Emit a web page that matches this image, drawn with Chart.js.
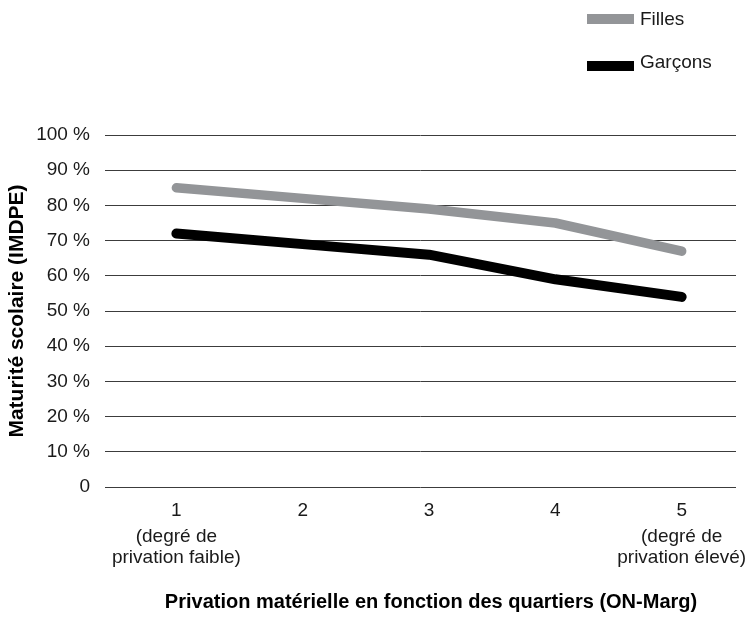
<!DOCTYPE html>
<html lang="fr">
<head>
<meta charset="utf-8">
<title>Maturité scolaire selon la privation matérielle</title>
<script src="https://cdn.jsdelivr.net/npm/chart.js@4/dist/chart.umd.min.js"></script>
<style>
  html, body { margin: 0; padding: 0; background: #ffffff; }
  #wrap { width: 752px; height: 617px; position: relative; }
</style>
</head>
<body>
<div id="wrap"><canvas id="chart" width="752" height="617"></canvas></div>
<script>
// Quintiles of material deprivation (ON-Marg)
const categories = [1, 2, 3, 4, 5];
// Extra wording printed under the first and last quintile
const categoryNotes = {
  1: ['(degré de', 'privation faible)'],
  5: ['(degré de', 'privation élevé)']
};
// Share of children ready for school (%), by sex
const fillesValues = [85, 82, 79, 75, 67];
const garconsValues = [72, 69, 66, 59, 54];
// Y axis tick values (%)
const yTickValues = [0, 10, 20, 30, 40, 50, 60, 70, 80, 90, 100];
const xAxisTitle = 'Privation matérielle en fonction des quartiers (ON-Marg)';

const FONT = '"Liberation Sans", Arial, Helvetica, sans-serif';
const TEXT_COLOR = '#1a1a1a';
const TEXT_SIZE = 19;

Chart.defaults.font.family = FONT;
Chart.defaults.font.size = TEXT_SIZE;
Chart.defaults.color = TEXT_COLOR;

const toPoints = values => categories.map((c, i) => ({ x: c, y: values[i] }));

// Vertical legend in the top-right corner
const sideLegend = {
  id: 'sideLegend',
  afterDraw(chart) {
    const ctx = chart.ctx;
    ctx.save();
    ctx.font = TEXT_SIZE + 'px ' + FONT;
    ctx.textBaseline = 'middle';
    ctx.textAlign = 'left';
    chart.data.datasets.forEach((ds, i) => {
      ctx.fillStyle = ds.borderColor;
      ctx.fillRect(587, 14 + 47 * i, 47, 10);
      ctx.fillStyle = TEXT_COLOR;
      ctx.fillText(ds.label, 640, 20 + 43 * i);
    });
    ctx.restore();
  }
};

// Secondary lines under the first and last x tick labels, plus the x axis title
const tickNotes = {
  id: 'tickNotes',
  afterDraw(chart) {
    const ctx = chart.ctx;
    const xs = chart.scales.x;
    ctx.save();
    ctx.font = TEXT_SIZE + 'px ' + FONT;
    ctx.fillStyle = TEXT_COLOR;
    ctx.textAlign = 'center';
    ctx.textBaseline = 'middle';
    Object.keys(categoryNotes).forEach(key => {
      const px = xs.getPixelForValue(Number(key));
      categoryNotes[key].forEach((line, j) => {
        ctx.fillText(line, px, 537 + 21 * j);
      });
    });
    ctx.font = 'bold 20px ' + FONT;
    ctx.fillStyle = '#000000';
    ctx.fillText(xAxisTitle, 431, 602);
    ctx.restore();
  }
};

new Chart(document.getElementById('chart'), {
  type: 'line',
  data: {
    datasets: [
      {
        label: 'Filles',
        data: toPoints(fillesValues),
        borderColor: '#939598',
        borderWidth: 9.5,
        borderCapStyle: 'round',
        borderJoinStyle: 'round',
        pointRadius: 0,
        tension: 0,
        fill: false
      },
      {
        label: 'Garçons',
        data: toPoints(garconsValues),
        borderColor: '#000000',
        borderWidth: 10,
        borderCapStyle: 'round',
        borderJoinStyle: 'round',
        pointRadius: 0,
        tension: 0,
        fill: false
      }
    ]
  },
  options: {
    responsive: false,
    animation: false,
    devicePixelRatio: 1,
    layout: { padding: { top: 135, right: 16, left: 0, bottom: 0 } },
    plugins: {
      legend: { display: false },
      tooltip: { enabled: false }
    },
    scales: {
      x: {
        type: 'linear',
        min: 0.435,
        max: 5.43,
        afterBuildTicks(scale) {
          scale.ticks = categories.map(v => ({ value: v }));
        },
        afterFit(scale) { scale.height = 130; },
        grid: { display: false, drawTicks: false },
        border: { display: false },
        ticks: {
          padding: 12,
          color: TEXT_COLOR,
          font: { size: TEXT_SIZE },
          maxRotation: 0,
          autoSkip: false,
          callback: v => String(v)
        },
        title: { display: false }
      },
      y: {
        min: 0,
        max: 100,
        afterBuildTicks(scale) {
          scale.ticks = yTickValues.map(v => ({ value: v }));
        },
        afterFit(scale) { scale.width = 105; },
        grid: { color: '#3c3c3c', lineWidth: 1, drawTicks: false },
        border: { display: false },
        ticks: {
          padding: 15,
          color: TEXT_COLOR,
          font: { size: TEXT_SIZE },
          callback: v => (v === 0 ? '0' : v + ' %')
        },
        title: {
          display: true,
          text: 'Maturité scolaire (IMDPE)',
          color: '#000000',
          font: { size: 21, weight: 'bold' },
          padding: { top: 5, bottom: 0 }
        }
      }
    }
  },
  plugins: [sideLegend, tickNotes]
});
</script>
</body>
</html>
